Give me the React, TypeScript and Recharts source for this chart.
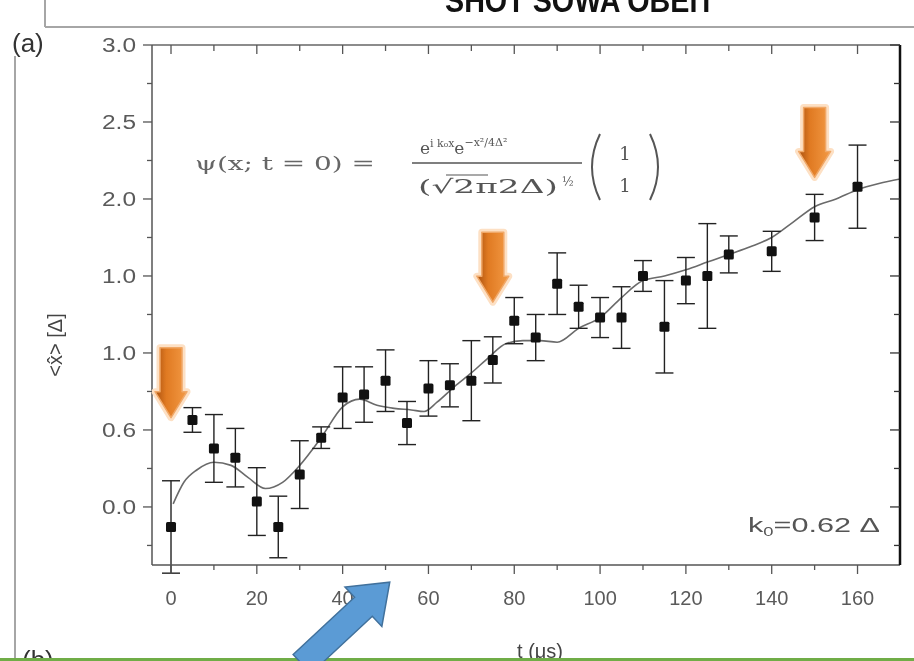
import React from 'react';
import { ComposedChart, XAxis, YAxis, Scatter, Line, ErrorBar, ReferenceDot } from 'recharts';

// ---- data ----
const times = [0, 5, 10, 15, 20, 25, 30, 35, 40, 45, 50, 55, 60, 65, 70, 75, 80, 85, 90, 95, 100, 105, 110, 115, 120, 125, 130, 140, 150, 160];
const means = [-0.13, 0.565, 0.38, 0.32, 0.035, -0.13, 0.21, 0.45, 0.71, 0.73, 0.82, 0.545, 0.77, 0.79, 0.82, 0.955, 1.21, 1.1, 1.45, 1.3, 1.23, 1.23, 1.5, 1.17, 1.47, 1.5, 1.64, 1.66, 1.88, 2.08];
const errors = [0.3, 0.08, 0.22, 0.19, 0.22, 0.2, 0.22, 0.07, 0.2, 0.18, 0.2, 0.14, 0.18, 0.14, 0.26, 0.15, 0.15, 0.15, 0.2, 0.14, 0.13, 0.2, 0.1, 0.3, 0.15, 0.34, 0.12, 0.13, 0.15, 0.27];

const fitTimes = [0.5, 3, 6, 10, 14, 18, 22, 26, 30, 35, 40, 44, 48, 52, 56, 59, 62, 66, 70, 74, 78, 82, 86, 90, 95, 100, 105, 110, 115, 120, 125, 130, 135, 140, 145, 150, 155, 160, 165, 170];
const fitValues = [0.02, 0.16, 0.24, 0.29, 0.27, 0.19, 0.12, 0.16, 0.27, 0.45, 0.65, 0.7, 0.66, 0.64, 0.63, 0.62, 0.68, 0.78, 0.87, 0.97, 1.06, 1.08, 1.08, 1.07, 1.16, 1.23, 1.36, 1.47, 1.5, 1.54, 1.59, 1.64, 1.69, 1.75, 1.85, 1.95, 2.0, 2.06, 2.1, 2.13];

const xTicks = [0, 10, 20, 30, 40, 50, 60, 70, 80, 90, 100, 110, 120, 130, 140, 150, 160];
const xMajor = [0, 20, 40, 60, 80, 100, 120, 140, 160];
const xLabels = ['0', '20', '40', '60', '80', '100', '120', '140', '160'];
const yTicks = [-0.25, 0, 0.25, 0.5, 0.75, 1, 1.25, 1.5, 1.75, 2, 2.25, 2.5, 2.75, 3];
const yMajor = [0, 0.5, 1, 1.5, 2, 2.5, 3];
const yLabels = ['0.0', '0.6', '1.0', '1.0', '2.0', '2.5', '3.0'];

const arrowTimes = [0, 75, 150];
const arrowTips = [0.58, 1.33, 2.14];

const points = times.map((t, i) => ({ t, y: means[i], err: errors[i] }));
const fit = fitTimes.map((t, i) => ({ t, y: fitValues[i] }));

const X_DOMAIN: [number, number] = [-4.43, 169.9];
const Y_DOMAIN: [number, number] = [-0.377, 3.0];

const key = (v: number) => Math.round(v * 100);
const yLabelFor = (v: number) => {
  const i = yMajor.findIndex((m) => key(m) === key(v));
  return i >= 0 ? yLabels[i] : null;
};
const xLabelFor = (v: number) => {
  const i = xMajor.findIndex((m) => key(m) === key(v));
  return i >= 0 ? xLabels[i] : null;
};

const sans = 'Liberation Sans, Arial, sans-serif';
const tickFont = { fontFamily: sans, fontSize: 20, fill: '#5a5a5a' };

const LeftTick = (p: any) => {
  const lab = yLabelFor(p.payload.value);
  return (
    <g>
      <line x1={p.x} x2={p.x - (lab ? 9 : 5)} y1={p.y} y2={p.y} stroke="#555" strokeWidth={1.3} />
      {lab && (
        <text x={p.x - 16} y={p.y} dy="0.35em" textAnchor="end" {...tickFont} textLength={34} lengthAdjust="spacingAndGlyphs">{lab}</text>
      )}
    </g>
  );
};
const RightTick = (p: any) => {
  const lab = yLabelFor(p.payload.value);
  return <line x1={p.x} x2={p.x - (lab ? 10 : 6)} y1={p.y} y2={p.y} stroke="#333" strokeWidth={1.3} />;
};
const BottomTick = (p: any) => {
  const lab = xLabelFor(p.payload.value);
  return (
    <g>
      <line x1={p.x} x2={p.x} y1={p.y} y2={p.y + (lab ? 9 : 5)} stroke="#555" strokeWidth={1.3} />
      {lab && (
        <text x={p.x} y={p.y + 40} textAnchor="middle" {...tickFont}>{lab}</text>
      )}
    </g>
  );
};
const TopTick = (p: any) => {
  const lab = xLabelFor(p.payload.value);
  return <line x1={p.x} x2={p.x} y1={p.y} y2={p.y + (lab ? 9 : 6)} stroke="#555" strokeWidth={1.3} />;
};

const SquareDot = (p: any) => {
  if (p.cx == null || p.cy == null) return null;
  return <rect x={p.cx - 5} y={p.cy - 5} width={10} height={10} rx={1.5} fill="#111" />;
};

const OrangeArrow = (p: any) => {
  const { cx, cy } = p;
  if (cx == null || cy == null) return null;
  const L = 70, sw = 11, hw = 16, hl = 26;
  const top = cy - L;
  const d = `M${cx - sw},${top} L${cx + sw},${top} L${cx + sw},${cy - hl} L${cx + hw},${cy - hl} L${cx},${cy} L${cx - hw},${cy - hl} L${cx - sw},${cy - hl} Z`;
  const id = `og${Math.round(cx)}`;
  return (
    <g>
      <defs>
        <linearGradient id={id} x1="0" x2="1" y1="0" y2="0">
          <stop offset="0" stopColor="#a9500f" />
          <stop offset="0.35" stopColor="#e07a22" />
          <stop offset="1" stopColor="#f39a45" />
        </linearGradient>
      </defs>
      <path d={d} fill="none" stroke="#fde0c4" strokeWidth={7} strokeLinejoin="round" />
      <path d={d} fill={`url(#${id})`} stroke="#f0a868" strokeWidth={1.5} strokeLinejoin="round" />
    </g>
  );
};

const serif = 'DejaVu Serif, Liberation Serif, serif';

export default function App() {
  return (
    <div style={{ position: 'absolute', left: 0, top: 0, width: 914, height: 661, background: '#fff', overflow: 'hidden' }}>
      <div style={{ position: 'absolute', left: 0, top: 0, filter: 'blur(0.45px)' }}>
        <ComposedChart width={914} height={661} margin={{ top: 44, right: 13, bottom: 66, left: 92 }}>
          <XAxis xAxisId="b" dataKey="t" type="number" domain={X_DOMAIN} allowDataOverflow ticks={xTicks} interval={0}
            tickLine={false} tickSize={0} tickMargin={0} height={30} axisLine={{ stroke: '#555', strokeWidth: 1.5 }} tick={<BottomTick />} />
          <XAxis xAxisId="top" orientation="top" dataKey="t" type="number" domain={X_DOMAIN} allowDataOverflow ticks={xTicks} interval={0}
            tickLine={false} tickSize={0} tickMargin={0} height={1} axisLine={{ stroke: '#666', strokeWidth: 1.5 }} tick={<TopTick />} />
          <YAxis yAxisId="l" type="number" domain={Y_DOMAIN} allowDataOverflow ticks={yTicks} interval={0} width={60}
            tickLine={false} tickSize={0} tickMargin={0} axisLine={{ stroke: '#555', strokeWidth: 1.5 }} tick={<LeftTick />} />
          <YAxis yAxisId="r" orientation="right" type="number" domain={Y_DOMAIN} allowDataOverflow ticks={yTicks} interval={0} width={1}
            tickLine={false} tickSize={0} tickMargin={0} axisLine={{ stroke: '#111', strokeWidth: 2.5 }} tick={<RightTick />} />

          <Line xAxisId="top" yAxisId="r" data={fit} dataKey="y" stroke="#fff" strokeOpacity={0} dot={false} isAnimationActive={false} />
          <Line xAxisId="b" yAxisId="l" data={fit} dataKey="y" type="monotone" stroke="#6a6a6a" strokeWidth={1.6} dot={false} isAnimationActive={false} />
          <Scatter xAxisId="b" yAxisId="l" data={points} dataKey="y" shape={<SquareDot />} isAnimationActive={false}>
            <ErrorBar dataKey="err" direction="y" width={9} stroke="#222" strokeWidth={1.4} />
          </Scatter>
          {arrowTimes.map((t, i) => (
            <ReferenceDot key={i} xAxisId="b" yAxisId="l" x={t} y={arrowTips[i]} ifOverflow="visible" shape={<OrangeArrow />} />
          ))}
        </ComposedChart>
      </div>

      <svg width={914} height={661} style={{ position: 'absolute', left: 0, top: 0, pointerEvents: 'none' }}>
        <g style={{ filter: 'blur(0.5px)' }}>
          {/* formula */}
          <text x={195} y={170} fontFamily={serif} fontSize={19} fill="#666" textLength={180} lengthAdjust="spacingAndGlyphs">ψ(x; t = 0) =</text>
          <text x={420} y={154} fontFamily={serif} fontSize={17} fill="#555">
            e<tspan dy={-7} fontSize={11}>i k₀x</tspan><tspan dy={7} fontSize={17}>e</tspan><tspan dy={-8} fontSize={11}>−x²/4Δ²</tspan>
          </text>
          <line x1={412} x2={582} y1={163} y2={163} stroke="#555" strokeWidth={1.5} />
          <text x={418} y={193} fontFamily={serif} fontSize={19} fill="#555" textLength={140} lengthAdjust="spacingAndGlyphs">
            (√2π2Δ)
          </text>
          <text x={562} y={186} fontFamily={serif} fontSize={12} fill="#555">½</text>
          <line x1={446} x2={488} y1={175} y2={175} stroke="#555" strokeWidth={1.2} />
          <path d="M600,134 Q584,167 600,200" fill="none" stroke="#555" strokeWidth={2} />
          <path d="M650,134 Q666,167 650,200" fill="none" stroke="#555" strokeWidth={2} />
          <text x={625} y={160} textAnchor="middle" fontFamily={serif} fontSize={18} fill="#555">1</text>
          <text x={625} y={192} textAnchor="middle" fontFamily={serif} fontSize={18} fill="#555">1</text>

          {/* k0 label */}
          <text x={748} y={532} fontFamily={sans} fontSize={20} fill="#555" textLength={132} lengthAdjust="spacingAndGlyphs">
            k<tspan dy={4} fontSize={12}>0</tspan><tspan dy={-4} fontSize={20}>=0.62 Δ</tspan>
          </text>

          {/* axis titles */}
          <text x={0} y={0} transform="translate(62,345) rotate(-90)" textAnchor="middle" fontFamily={sans} fontSize={20} fill="#444">
            &lt;x̂&gt; [Δ]
          </text>
          <text x={540} y={658} textAnchor="middle" fontFamily={sans} fontSize={20} fill="#444">t (μs)</text>

          {/* slide decorations */}
          <text x={12} y={52} fontFamily={sans} fontSize={26} fill="#333">(a)</text>
          <text x={22} y={669} fontFamily={sans} fontSize={26} fill="#333">(b)</text>
        </g>
        <text x={445} y={12} fontFamily={sans} fontWeight="bold" fontSize={34} fill="#111" textLength={270} lengthAdjust="spacingAndGlyphs">SHOT SOWA OBEIT</text>
        <line x1={45} x2={914} y1={27} y2={27} stroke="#a6a6a6" strokeWidth={2} />
        <line x1={45} x2={45} y1={0} y2={27} stroke="#a6a6a6" strokeWidth={2} />
        <line x1={15} x2={15} y1={56} y2={661} stroke="#a6a6a6" strokeWidth={2} />
        <line x1={0} x2={914} y1={659.5} y2={659.5} stroke="#70ad47" strokeWidth={3} />
        <g transform="translate(302,664) rotate(-43)">
          <path d="M0,-13 L84,-13 L84,-27 L120,0 L84,27 L84,13 L0,13 Z" fill="#5b9bd5" stroke="#41719c" strokeWidth={1.5} strokeLinejoin="miter" />
        </g>
      </svg>
    </div>
  );
}
